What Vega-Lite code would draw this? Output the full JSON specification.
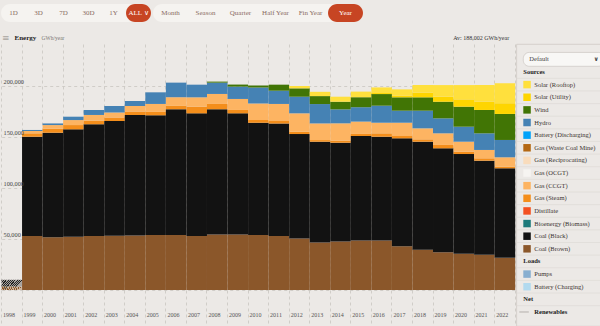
{
  "$schema": "https://vega.github.io/schema/vega-lite/v6.json",
  "background": "#ECE9E6",
  "padding": {"left": 0, "top": 4, "right": 0, "bottom": 0},
  "bounds": "flush",
  "spacing": 40,
  "config": {"font": "Liberation Serif", "view": {"stroke": null}},
  "datasets": {
    "buttons": [
      {"label": "1D", "group": "range", "selected": false},
      {"label": "3D", "group": "range", "selected": false},
      {"label": "7D", "group": "range", "selected": false},
      {"label": "30D", "group": "range", "selected": false},
      {"label": "1Y", "group": "range", "selected": false},
      {"label": "ALL ∨", "group": "range", "selected": true},
      {"label": "Month", "group": "period", "selected": false},
      {"label": "Season", "group": "period", "selected": false},
      {"label": "Quarter", "group": "period", "selected": false},
      {"label": "Half Year", "group": "period", "selected": false},
      {"label": "Fin Year", "group": "period", "selected": false},
      {"label": "Year", "group": "period", "selected": true}
    ],
    "fuels": [
      {"fuel": "Coal (Brown)", "stackOrder": 1},
      {"fuel": "Coal (Black)", "stackOrder": 2},
      {"fuel": "Bioenergy (Biomass)", "stackOrder": 3},
      {"fuel": "Distillate", "stackOrder": 4},
      {"fuel": "Gas (Steam)", "stackOrder": 5},
      {"fuel": "Gas (CCGT)", "stackOrder": 6},
      {"fuel": "Gas (OCGT)", "stackOrder": 7},
      {"fuel": "Gas (Reciprocating)", "stackOrder": 8},
      {"fuel": "Gas (Waste Coal Mine)", "stackOrder": 9},
      {"fuel": "Battery (Discharging)", "stackOrder": 10},
      {"fuel": "Hydro", "stackOrder": 11},
      {"fuel": "Wind", "stackOrder": 12},
      {"fuel": "Solar (Utility)", "stackOrder": 13},
      {"fuel": "Solar (Rooftop)", "stackOrder": 14}
    ],
    "legend": [
      {"label": "Default", "kind": "dropdown"},
      {"label": "Sources", "kind": "header"},
      {"label": "Solar (Rooftop)", "kind": "item"},
      {"label": "Solar (Utility)", "kind": "item"},
      {"label": "Wind", "kind": "item"},
      {"label": "Hydro", "kind": "item"},
      {"label": "Battery (Discharging)", "kind": "item"},
      {"label": "Gas (Waste Coal Mine)", "kind": "item"},
      {"label": "Gas (Reciprocating)", "kind": "item"},
      {"label": "Gas (OCGT)", "kind": "item"},
      {"label": "Gas (CCGT)", "kind": "item"},
      {"label": "Gas (Steam)", "kind": "item"},
      {"label": "Distillate", "kind": "item"},
      {"label": "Bioenergy (Biomass)", "kind": "item"},
      {"label": "Coal (Black)", "kind": "item"},
      {"label": "Coal (Brown)", "kind": "item"},
      {"label": "Loads", "kind": "header"},
      {"label": "Pumps", "kind": "item"},
      {"label": "Battery (Charging)", "kind": "item"},
      {"label": "Net", "kind": "header"},
      {"label": "Renewables", "kind": "line"}
    ],
    "energy": [
      {"year": 1998, "fuel": "Coal (Brown)", "value": 3500},
      {"year": 1998, "fuel": "Coal (Black)", "value": 6500},
      {"year": 1999, "fuel": "Coal (Brown)", "value": 53000}, {"year": 1999, "fuel": "Coal (Black)", "value": 97300}, {"year": 1999, "fuel": "Gas (Steam)", "value": 3300}, {"year": 1999, "fuel": "Gas (CCGT)", "value": 2300}, {"year": 1999, "fuel": "Hydro", "value": 1000},
      {"year": 2000, "fuel": "Coal (Brown)", "value": 51800}, {"year": 2000, "fuel": "Coal (Black)", "value": 102400}, {"year": 2000, "fuel": "Gas (Steam)", "value": 3900}, {"year": 2000, "fuel": "Gas (CCGT)", "value": 3600}, {"year": 2000, "fuel": "Hydro", "value": 1600},
      {"year": 2001, "fuel": "Coal (Brown)", "value": 52300}, {"year": 2001, "fuel": "Coal (Black)", "value": 105200}, {"year": 2001, "fuel": "Gas (Steam)", "value": 4200}, {"year": 2001, "fuel": "Gas (CCGT)", "value": 4900}, {"year": 2001, "fuel": "Hydro", "value": 3300},
      {"year": 2002, "fuel": "Coal (Brown)", "value": 52900}, {"year": 2002, "fuel": "Coal (Black)", "value": 109600}, {"year": 2002, "fuel": "Gas (Steam)", "value": 3500}, {"year": 2002, "fuel": "Gas (CCGT)", "value": 5600}, {"year": 2002, "fuel": "Hydro", "value": 4900},
      {"year": 2003, "fuel": "Coal (Brown)", "value": 53200}, {"year": 2003, "fuel": "Coal (Black)", "value": 112500}, {"year": 2003, "fuel": "Gas (Steam)", "value": 3300}, {"year": 2003, "fuel": "Gas (CCGT)", "value": 4900}, {"year": 2003, "fuel": "Hydro", "value": 6500},
      {"year": 2004, "fuel": "Coal (Brown)", "value": 53500}, {"year": 2004, "fuel": "Coal (Black)", "value": 118100}, {"year": 2004, "fuel": "Gas (Steam)", "value": 3300}, {"year": 2004, "fuel": "Gas (CCGT)", "value": 5500}, {"year": 2004, "fuel": "Hydro", "value": 4900},
      {"year": 2005, "fuel": "Coal (Brown)", "value": 54000}, {"year": 2005, "fuel": "Coal (Black)", "value": 117300}, {"year": 2005, "fuel": "Gas (Steam)", "value": 3300}, {"year": 2005, "fuel": "Gas (CCGT)", "value": 7800}, {"year": 2005, "fuel": "Hydro", "value": 11400},
      {"year": 2006, "fuel": "Coal (Brown)", "value": 54000}, {"year": 2006, "fuel": "Coal (Black)", "value": 123200}, {"year": 2006, "fuel": "Gas (Steam)", "value": 3300}, {"year": 2006, "fuel": "Gas (CCGT)", "value": 8500}, {"year": 2006, "fuel": "Hydro", "value": 14300},
      {"year": 2007, "fuel": "Coal (Brown)", "value": 53000}, {"year": 2007, "fuel": "Coal (Black)", "value": 120200}, {"year": 2007, "fuel": "Gas (Steam)", "value": 6500}, {"year": 2007, "fuel": "Gas (CCGT)", "value": 9200}, {"year": 2007, "fuel": "Hydro", "value": 12400},
      {"year": 2008, "fuel": "Coal (Brown)", "value": 54500}, {"year": 2008, "fuel": "Coal (Black)", "value": 122700}, {"year": 2008, "fuel": "Gas (Steam)", "value": 5200}, {"year": 2008, "fuel": "Gas (CCGT)", "value": 9800}, {"year": 2008, "fuel": "Hydro", "value": 11100}, {"year": 2008, "fuel": "Wind", "value": 1000},
      {"year": 2009, "fuel": "Coal (Brown)", "value": 54500}, {"year": 2009, "fuel": "Coal (Black)", "value": 118700}, {"year": 2009, "fuel": "Gas (Steam)", "value": 3300}, {"year": 2009, "fuel": "Gas (CCGT)", "value": 10800}, {"year": 2009, "fuel": "Hydro", "value": 12100}, {"year": 2009, "fuel": "Wind", "value": 2000},
      {"year": 2010, "fuel": "Coal (Brown)", "value": 54000}, {"year": 2010, "fuel": "Coal (Black)", "value": 110000}, {"year": 2010, "fuel": "Gas (Steam)", "value": 2600}, {"year": 2010, "fuel": "Gas (CCGT)", "value": 16300}, {"year": 2010, "fuel": "Hydro", "value": 15700}, {"year": 2010, "fuel": "Wind", "value": 2000},
      {"year": 2011, "fuel": "Coal (Brown)", "value": 53000}, {"year": 2011, "fuel": "Coal (Black)", "value": 110200}, {"year": 2011, "fuel": "Gas (Steam)", "value": 2500}, {"year": 2011, "fuel": "Gas (CCGT)", "value": 16700}, {"year": 2011, "fuel": "Hydro", "value": 13000}, {"year": 2011, "fuel": "Wind", "value": 5900},
      {"year": 2012, "fuel": "Coal (Brown)", "value": 50500}, {"year": 2012, "fuel": "Coal (Black)", "value": 102400}, {"year": 2012, "fuel": "Gas (Steam)", "value": 2300}, {"year": 2012, "fuel": "Gas (CCGT)", "value": 18000}, {"year": 2012, "fuel": "Hydro", "value": 16300}, {"year": 2012, "fuel": "Wind", "value": 8200}, {"year": 2012, "fuel": "Solar (Rooftop)", "value": 2300},
      {"year": 2013, "fuel": "Coal (Brown)", "value": 46500}, {"year": 2013, "fuel": "Coal (Black)", "value": 98900}, {"year": 2013, "fuel": "Gas (Steam)", "value": 1600}, {"year": 2013, "fuel": "Gas (CCGT)", "value": 16300}, {"year": 2013, "fuel": "Hydro", "value": 19000}, {"year": 2013, "fuel": "Wind", "value": 7800}, {"year": 2013, "fuel": "Solar (Rooftop)", "value": 4200},
      {"year": 2014, "fuel": "Coal (Brown)", "value": 47500}, {"year": 2014, "fuel": "Coal (Black)", "value": 96900}, {"year": 2014, "fuel": "Gas (Steam)", "value": 2000}, {"year": 2014, "fuel": "Gas (CCGT)", "value": 17000}, {"year": 2014, "fuel": "Hydro", "value": 13700}, {"year": 2014, "fuel": "Wind", "value": 7500}, {"year": 2014, "fuel": "Solar (Rooftop)", "value": 4900},
      {"year": 2015, "fuel": "Coal (Brown)", "value": 48500}, {"year": 2015, "fuel": "Coal (Black)", "value": 102500}, {"year": 2015, "fuel": "Gas (Steam)", "value": 2000}, {"year": 2015, "fuel": "Gas (CCGT)", "value": 12100}, {"year": 2015, "fuel": "Hydro", "value": 14100}, {"year": 2015, "fuel": "Wind", "value": 9800}, {"year": 2015, "fuel": "Solar (Rooftop)", "value": 5500},
      {"year": 2016, "fuel": "Coal (Brown)", "value": 48500}, {"year": 2016, "fuel": "Coal (Black)", "value": 101800}, {"year": 2016, "fuel": "Gas (Steam)", "value": 3300}, {"year": 2016, "fuel": "Gas (CCGT)", "value": 10400}, {"year": 2016, "fuel": "Hydro", "value": 16700}, {"year": 2016, "fuel": "Wind", "value": 11400}, {"year": 2016, "fuel": "Solar (Utility)", "value": 1000}, {"year": 2016, "fuel": "Solar (Rooftop)", "value": 5500},
      {"year": 2017, "fuel": "Coal (Brown)", "value": 43000}, {"year": 2017, "fuel": "Coal (Black)", "value": 105700}, {"year": 2017, "fuel": "Gas (Steam)", "value": 2300}, {"year": 2017, "fuel": "Gas (CCGT)", "value": 13000}, {"year": 2017, "fuel": "Hydro", "value": 11800}, {"year": 2017, "fuel": "Wind", "value": 13100}, {"year": 2017, "fuel": "Solar (Utility)", "value": 1500}, {"year": 2017, "fuel": "Solar (Rooftop)", "value": 6300},
      {"year": 2018, "fuel": "Coal (Brown)", "value": 39500}, {"year": 2018, "fuel": "Coal (Black)", "value": 105900}, {"year": 2018, "fuel": "Gas (Steam)", "value": 2300}, {"year": 2018, "fuel": "Gas (CCGT)", "value": 10800}, {"year": 2018, "fuel": "Hydro", "value": 17300}, {"year": 2018, "fuel": "Wind", "value": 13100}, {"year": 2018, "fuel": "Solar (Utility)", "value": 4500}, {"year": 2018, "fuel": "Solar (Rooftop)", "value": 7600},
      {"year": 2019, "fuel": "Coal (Brown)", "value": 37000}, {"year": 2019, "fuel": "Coal (Black)", "value": 101900}, {"year": 2019, "fuel": "Gas (Steam)", "value": 3300}, {"year": 2019, "fuel": "Gas (CCGT)", "value": 11400}, {"year": 2019, "fuel": "Hydro", "value": 14700}, {"year": 2019, "fuel": "Wind", "value": 16300}, {"year": 2019, "fuel": "Solar (Utility)", "value": 4900}, {"year": 2019, "fuel": "Solar (Rooftop)", "value": 11400},
      {"year": 2020, "fuel": "Coal (Brown)", "value": 35500}, {"year": 2020, "fuel": "Coal (Black)", "value": 97800}, {"year": 2020, "fuel": "Gas (Steam)", "value": 2300}, {"year": 2020, "fuel": "Gas (CCGT)", "value": 9800}, {"year": 2020, "fuel": "Hydro", "value": 14700}, {"year": 2020, "fuel": "Wind", "value": 19600}, {"year": 2020, "fuel": "Solar (Utility)", "value": 7200}, {"year": 2020, "fuel": "Solar (Rooftop)", "value": 14000},
      {"year": 2021, "fuel": "Coal (Brown)", "value": 34500}, {"year": 2021, "fuel": "Coal (Black)", "value": 92300}, {"year": 2021, "fuel": "Gas (Steam)", "value": 2300}, {"year": 2021, "fuel": "Gas (CCGT)", "value": 8200}, {"year": 2021, "fuel": "Hydro", "value": 16300}, {"year": 2021, "fuel": "Wind", "value": 22900}, {"year": 2021, "fuel": "Solar (Utility)", "value": 8200}, {"year": 2021, "fuel": "Solar (Rooftop)", "value": 16300},
      {"year": 2022, "fuel": "Coal (Brown)", "value": 31500}, {"year": 2022, "fuel": "Coal (Black)", "value": 87800}, {"year": 2022, "fuel": "Gas (Steam)", "value": 1600}, {"year": 2022, "fuel": "Gas (CCGT)", "value": 9200}, {"year": 2022, "fuel": "Hydro", "value": 17000}, {"year": 2022, "fuel": "Wind", "value": 25500}, {"year": 2022, "fuel": "Solar (Utility)", "value": 10500}, {"year": 2022, "fuel": "Solar (Rooftop)", "value": 19600}
    ]
  },
  "vconcat": [
    {
      "bounds": "flush",
      "spacing": 2,
      "hconcat": [
        {
          "width": 150, "height": 18,
          "view": {"fill": "#F5F3F0", "stroke": null, "cornerRadius": 9},
          "data": {"name": "buttons"},
          "transform": [{"filter": "datum.group == 'range'"}],
          "encoding": {"x": {"field": "label", "type": "nominal", "sort": null, "scale": {"paddingInner": 0, "paddingOuter": 0}, "axis": null}},
          "layer": [
            {"mark": {"type": "bar", "fill": "#C74523", "cornerRadius": 9},
             "encoding": {"opacity": {"condition": {"test": "datum.selected", "value": 1}, "value": 0}}},
            {"mark": {"type": "text", "font": "Liberation Serif", "fontSize": 7},
             "encoding": {"text": {"field": "label"}, "color": {"condition": {"test": "datum.selected", "value": "#FFFFFF"}, "value": "#8A6B62"}}}
          ]
        },
        {
          "width": 210, "height": 18,
          "view": {"fill": "#F5F3F0", "stroke": null, "cornerRadius": 9},
          "data": {"name": "buttons"},
          "transform": [{"filter": "datum.group == 'period'"}],
          "encoding": {"x": {"field": "label", "type": "nominal", "sort": null, "scale": {"paddingInner": 0, "paddingOuter": 0}, "axis": null}},
          "layer": [
            {"mark": {"type": "bar", "fill": "#C74523", "cornerRadius": 9},
             "encoding": {"opacity": {"condition": {"test": "datum.selected", "value": 1}, "value": 0}}},
            {"mark": {"type": "text", "font": "Liberation Serif", "fontSize": 7},
             "encoding": {"text": {"field": "label"}, "color": {"condition": {"test": "datum.selected", "value": "#FFFFFF"}, "value": "#8A6B62"}}}
          ]
        }
      ]
    },
    {
      "bounds": "flush",
      "spacing": 1.3,
      "hconcat": [
        {
          "width": 513.7, "height": 246,
          "view": {"stroke": null},
          "title": {"text": "≡", "anchor": "start", "frame": "group", "dx": 1, "offset": -9, "font": "DejaVu Sans", "fontSize": 9, "fontWeight": "normal", "color": "#A9A5A0"},
          "data": {"name": "energy"},
          "layer": [
            {
              "transform": [
                {"filter": "datum.year >= 1999"},
                {"lookup": "fuel", "from": {"data": {"name": "fuels"}, "key": "fuel", "fields": ["stackOrder"]}}
              ],
              "mark": {"type": "bar", "binSpacing": 0},
              "encoding": {
                "x": {"field": "year", "type": "quantitative", "bin": {"step": 1, "extent": [1998, 2023]},
                      "scale": {"domain": [1998, 2023], "nice": false, "zero": false},
                      "axis": {"orient": "bottom", "values": [1998, 1999, 2000, 2001, 2002, 2003, 2004, 2005, 2006, 2007, 2008, 2009, 2010, 2011, 2012, 2013, 2014, 2015, 2016, 2017, 2018, 2019, 2020, 2021, 2022, 2023],
                               "format": "d", "labelExpr": "datum.value > 2022 ? '' : datum.label",
                               "grid": true, "gridDash": [3, 3], "gridColor": "#C9C5C0", "gridWidth": 0.8,
                               "ticks": true, "tickSize": 33, "tickDash": [3, 3], "tickColor": "#C9C5C0", "tickWidth": 0.8,
                               "domain": false, "labelAlign": "left", "labelBaseline": "middle", "labelPadding": -9, "labelOffset": 1.5,
                               "labelFont": "Liberation Serif", "labelFontSize": 6, "labelColor": "#555555",
                               "labelOverlap": false, "labelFlush": false, "labelBound": false, "title": null}},
                "y": {"field": "value", "type": "quantitative", "stack": "zero",
                      "scale": {"domain": [0, 241176], "nice": false},
                      "axis": {"orient": "left", "values": [0, 50000, 100000, 150000, 200000], "format": ",.0f",
                               "grid": false, "ticks": false, "domain": false, "labelAlign": "left", "labelBaseline": "bottom", "labelPadding": -2, "labelOffset": -1,
                               "labelFont": "Liberation Serif", "labelFontSize": 6.3, "labelColor": "#444444", "labelOverlap": false, "labelBound": false, "labelFlush": false,
                               "zindex": 1,
                               "title": "Energy", "titleAngle": 0, "titleAlign": "left", "titleBaseline": "alphabetic", "titleX": 13, "titleY": -4.5,
                               "titleFont": "Liberation Serif", "titleFontSize": 7, "titleFontWeight": "bold", "titleColor": "#222222"}},
                "order": {"field": "stackOrder", "type": "quantitative", "sort": "ascending"},
                "color": {"field": "fuel", "type": "nominal",
                          "scale": {"domain": ["Solar (Rooftop)", "Solar (Utility)", "Wind", "Hydro", "Battery (Discharging)", "Gas (Waste Coal Mine)", "Gas (Reciprocating)", "Gas (OCGT)", "Gas (CCGT)", "Gas (Steam)", "Distillate", "Bioenergy (Biomass)", "Coal (Black)", "Coal (Brown)", "Pumps", "Battery (Charging)"],
                                    "range": ["#FFE03D", "#FED500", "#417505", "#4582B4", "#00A2FA", "#B46813", "#F9DCBC", "#F6F4F1", "#FDB462", "#F48E1B", "#F35020", "#1D7A7A", "#121212", "#8B572A", "#88AFD0", "#B2DAEF"]},
                          "legend": null}
              }
            },
            {
              "transform": [
                {"filter": "datum.year == 1998"},
                {"stack": "value", "groupby": ["year"], "sort": [{"field": "fuel", "order": "descending"}], "as": ["v0", "v1"]}
              ],
              "encoding": {
                "x": {"field": "year", "type": "quantitative", "bin": {"step": 1, "extent": [1998, 2023]},
                      "scale": {"domain": [1998, 2023], "nice": false, "zero": false},
                      "axis": {"orient": "top", "labels": false, "ticks": false, "domain": false, "grid": false,
                               "title": "GWh/year", "titleX": 40, "titleY": -4.5, "titleAlign": "left", "titleBaseline": "alphabetic",
                               "titleFont": "Liberation Serif", "titleFontSize": 5.5, "titleFontWeight": "normal", "titleColor": "#7A7572"}},
                "y": {"field": "v1", "type": "quantitative", "scale": {"domain": [0, 241176], "nice": false},
                      "axis": {"orient": "right", "values": [0, 50000, 100000, 150000, 200000], "labels": false, "ticks": false, "domain": false,
                               "grid": true, "gridDash": [3, 3], "gridColor": "#C9C5C0", "gridWidth": 0.8, "zindex": 0,
                               "title": "Av: 188,002 GWh/year", "titleAngle": 0, "titleAlign": "right", "titleBaseline": "alphabetic", "titleX": -6, "titleY": -4.5,
                               "titleFont": "Liberation Serif", "titleFontSize": 6, "titleFontWeight": "normal", "titleColor": "#333333"}},
                "y2": {"field": "v0"}
              },
              "layer": [
                {"transform": [{"filter": "datum.fuel == 'Coal (Brown)'"}],
                 "mark": {"type": "bar", "binSpacing": 0,
                          "fill": {"gradient": "linear", "x1": 0, "y1": 0, "x2": 1, "y2": 0.3, "stops": [
                            {"offset": 0, "color": "#8B572A"}, {"offset": 0.05, "color": "#8B572A"}, {"offset": 0.05, "color": "#CDB59E"}, {"offset": 0.1, "color": "#CDB59E"},
                            {"offset": 0.1, "color": "#8B572A"}, {"offset": 0.15, "color": "#8B572A"}, {"offset": 0.15, "color": "#CDB59E"}, {"offset": 0.2, "color": "#CDB59E"},
                            {"offset": 0.2, "color": "#8B572A"}, {"offset": 0.25, "color": "#8B572A"}, {"offset": 0.25, "color": "#CDB59E"}, {"offset": 0.3, "color": "#CDB59E"},
                            {"offset": 0.3, "color": "#8B572A"}, {"offset": 0.35, "color": "#8B572A"}, {"offset": 0.35, "color": "#CDB59E"}, {"offset": 0.4, "color": "#CDB59E"},
                            {"offset": 0.4, "color": "#8B572A"}, {"offset": 0.45, "color": "#8B572A"}, {"offset": 0.45, "color": "#CDB59E"}, {"offset": 0.5, "color": "#CDB59E"},
                            {"offset": 0.5, "color": "#8B572A"}, {"offset": 0.55, "color": "#8B572A"}, {"offset": 0.55, "color": "#CDB59E"}, {"offset": 0.6, "color": "#CDB59E"},
                            {"offset": 0.6, "color": "#8B572A"}, {"offset": 0.65, "color": "#8B572A"}, {"offset": 0.65, "color": "#CDB59E"}, {"offset": 0.7, "color": "#CDB59E"},
                            {"offset": 0.7, "color": "#8B572A"}, {"offset": 0.75, "color": "#8B572A"}, {"offset": 0.75, "color": "#CDB59E"}, {"offset": 0.8, "color": "#CDB59E"},
                            {"offset": 0.8, "color": "#8B572A"}, {"offset": 0.85, "color": "#8B572A"}, {"offset": 0.85, "color": "#CDB59E"}, {"offset": 0.9, "color": "#CDB59E"},
                            {"offset": 0.9, "color": "#8B572A"}, {"offset": 0.95, "color": "#8B572A"}, {"offset": 0.95, "color": "#CDB59E"}, {"offset": 1, "color": "#CDB59E"}]}}},
                {"transform": [{"filter": "datum.fuel == 'Coal (Black)'"}],
                 "mark": {"type": "bar", "binSpacing": 0,
                          "fill": {"gradient": "linear", "x1": 0, "y1": 0, "x2": 1, "y2": 0.3, "stops": [
                            {"offset": 0, "color": "#222222"}, {"offset": 0.05, "color": "#222222"}, {"offset": 0.05, "color": "#A9A5A1"}, {"offset": 0.1, "color": "#A9A5A1"},
                            {"offset": 0.1, "color": "#222222"}, {"offset": 0.15, "color": "#222222"}, {"offset": 0.15, "color": "#A9A5A1"}, {"offset": 0.2, "color": "#A9A5A1"},
                            {"offset": 0.2, "color": "#222222"}, {"offset": 0.25, "color": "#222222"}, {"offset": 0.25, "color": "#A9A5A1"}, {"offset": 0.3, "color": "#A9A5A1"},
                            {"offset": 0.3, "color": "#222222"}, {"offset": 0.35, "color": "#222222"}, {"offset": 0.35, "color": "#A9A5A1"}, {"offset": 0.4, "color": "#A9A5A1"},
                            {"offset": 0.4, "color": "#222222"}, {"offset": 0.45, "color": "#222222"}, {"offset": 0.45, "color": "#A9A5A1"}, {"offset": 0.5, "color": "#A9A5A1"},
                            {"offset": 0.5, "color": "#222222"}, {"offset": 0.55, "color": "#222222"}, {"offset": 0.55, "color": "#A9A5A1"}, {"offset": 0.6, "color": "#A9A5A1"},
                            {"offset": 0.6, "color": "#222222"}, {"offset": 0.65, "color": "#222222"}, {"offset": 0.65, "color": "#A9A5A1"}, {"offset": 0.7, "color": "#A9A5A1"},
                            {"offset": 0.7, "color": "#222222"}, {"offset": 0.75, "color": "#222222"}, {"offset": 0.75, "color": "#A9A5A1"}, {"offset": 0.8, "color": "#A9A5A1"},
                            {"offset": 0.8, "color": "#222222"}, {"offset": 0.85, "color": "#222222"}, {"offset": 0.85, "color": "#A9A5A1"}, {"offset": 0.9, "color": "#A9A5A1"},
                            {"offset": 0.9, "color": "#222222"}, {"offset": 0.95, "color": "#222222"}, {"offset": 0.95, "color": "#A9A5A1"}, {"offset": 1, "color": "#A9A5A1"}]}}}
              ]
            }
          ],
          "resolve": {"axis": {"x": "independent", "y": "independent"}}
        },
        {
          "width": 85, "height": 282,
          "view": {"stroke": "#CFCAC5", "strokeWidth": 0.8, "fill": null},
          "data": {"name": "legend"},
          "encoding": {"y": {"field": "label", "type": "nominal", "sort": null,
                             "scale": {"type": "band", "domain": ["Default", "Sources", "Solar (Rooftop)", "Solar (Utility)", "Wind", "Hydro", "Battery (Discharging)", "Gas (Waste Coal Mine)", "Gas (Reciprocating)", "Gas (OCGT)", "Gas (CCGT)", "Gas (Steam)", "Distillate", "Bioenergy (Biomass)", "Coal (Black)", "Coal (Brown)", "Loads", "Pumps", "Battery (Charging)", "Net", "Renewables"],
                                       "paddingInner": 0, "paddingOuter": 0.663, "align": 0.54}, "axis": null}},
          "layer": [
            {"transform": [{"filter": "datum.kind != 'dropdown' && datum.kind != 'line'"}],
             "mark": {"type": "rule", "color": "#DCD8D3", "strokeWidth": 0.6},
             "encoding": {"y": {"field": "label", "type": "nominal", "sort": null, "bandPosition": 1, "axis": null}}},
            {"transform": [{"filter": "datum.kind == 'dropdown'"}],
             "mark": {"type": "bar", "fill": "#F8F7F5", "stroke": "#CBC6C1", "strokeWidth": 0.7, "cornerRadius": 6, "height": {"band": 1.1}},
             "encoding": {"x": {"datum": 7, "type": "quantitative", "scale": {"domain": [0, 85], "nice": false, "zero": false}, "axis": null}, "x2": {"datum": 88}}},
            {"transform": [{"filter": "datum.kind == 'dropdown'"}],
             "mark": {"type": "text", "align": "left", "baseline": "middle", "font": "Liberation Serif", "fontSize": 6.5, "color": "#444444"},
             "encoding": {"x": {"datum": 13, "type": "quantitative"}, "text": {"field": "label"}}},
            {"transform": [{"filter": "datum.kind == 'dropdown'"}],
             "mark": {"type": "text", "align": "center", "baseline": "middle", "font": "DejaVu Sans", "fontSize": 6, "fontWeight": "bold", "color": "#444444", "text": "∨"},
             "encoding": {"x": {"datum": 80, "type": "quantitative"}}},
            {"transform": [{"filter": "datum.kind == 'header'"}],
             "mark": {"type": "text", "align": "left", "baseline": "middle", "font": "Liberation Serif", "fontSize": 6.5, "fontWeight": "bold", "color": "#222222"},
             "encoding": {"x": {"datum": 7, "type": "quantitative"}, "text": {"field": "label"}}},
            {"transform": [{"filter": "datum.kind == 'item'"}],
             "mark": {"type": "square", "size": 56, "filled": true, "opacity": 1},
             "encoding": {"x": {"datum": 10.75, "type": "quantitative"}, "color": {"field": "label", "type": "nominal", "legend": null}}},
            {"transform": [{"filter": "datum.kind == 'item'"}],
             "mark": {"type": "text", "align": "left", "baseline": "middle", "font": "Liberation Serif", "fontSize": 6.5, "color": "#3A3330"},
             "encoding": {"x": {"datum": 18, "type": "quantitative"}, "text": {"field": "label"}}},
            {"transform": [{"filter": "datum.kind == 'line'"}],
             "mark": {"type": "rule", "color": "#BDB9B5", "strokeWidth": 1.2},
             "encoding": {"x": {"datum": 3, "type": "quantitative"}, "x2": {"datum": 12.5}}},
            {"transform": [{"filter": "datum.kind == 'line'"}],
             "mark": {"type": "text", "align": "left", "baseline": "middle", "font": "Liberation Serif", "fontSize": 6.5, "fontWeight": "bold", "color": "#222222"},
             "encoding": {"x": {"datum": 18, "type": "quantitative"}, "text": {"field": "label"}}}
          ]
        }
      ]
    }
  ]
}
